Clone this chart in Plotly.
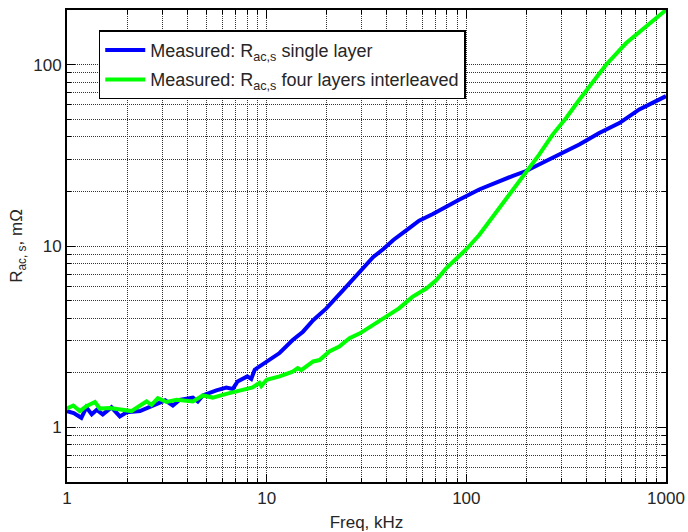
import plotly.graph_objects as go

# Single layer (blue)
freq_single = [1.0, 1.08, 1.18, 1.25, 1.33, 1.41, 1.51, 1.67, 1.84, 1.99, 2.32, 2.6, 2.92, 3.1,
               3.39, 3.67, 4.27, 4.52, 4.79, 5.6, 6.28, 6.77, 7.15, 8.0, 8.37, 8.71, 9.97, 11.6,
               13.5, 15.2, 17.1, 19.9, 24.1, 29.3, 34.2, 38.3, 43.1, 50, 58, 68, 79, 92, 116,
               140, 170, 199, 232, 292, 368, 463, 584, 735, 925, 1000]
rac_single = [1.23, 1.2, 1.13, 1.29, 1.18, 1.25, 1.18, 1.29, 1.15, 1.21, 1.23, 1.29, 1.37, 1.41,
              1.32, 1.42, 1.46, 1.39, 1.5, 1.6, 1.66, 1.63, 1.79, 1.91, 1.85, 2.08, 2.31, 2.57,
              3.03, 3.37, 3.9, 4.53, 5.7, 7.19, 8.7, 9.6, 10.8, 12.2, 13.8, 15.0, 16.5, 18.0, 20.5,
              22.4, 24.3, 25.9, 28.2, 32.0, 36.3, 42.0, 47.6, 56.6, 64.0, 67.0]

# Four layers interleaved (green)
freq_four = [1.0, 1.075, 1.16, 1.25, 1.38, 1.46, 1.64, 1.9, 2.1, 2.5, 2.65, 2.85, 3.15, 3.54,
             4.27, 4.79, 5.37, 6.28, 7.6, 8.5, 9.2, 9.4, 10, 11.6, 13.5, 14.3, 14.9, 17.1, 18.4,
             20.6, 23.1, 26, 29.3, 34.2, 39.5, 46, 53.7, 63, 70.6, 79, 89, 100, 116, 135, 158,
             184, 206, 232, 270, 316, 368, 430, 500, 630, 795, 950, 1000]
rac_four = [1.27, 1.32, 1.23, 1.31, 1.38, 1.27, 1.28, 1.25, 1.23, 1.39, 1.33, 1.45, 1.38, 1.42,
            1.39, 1.5, 1.46, 1.53, 1.61, 1.66, 1.76, 1.69, 1.83, 1.91, 2.03, 2.12, 2.07, 2.31, 2.35,
            2.62, 2.79, 3.1, 3.3, 3.66, 4.07, 4.53, 5.24, 5.83, 6.47, 7.5, 8.5, 9.6, 11.5, 14.4, 18.1,
            22.8, 27.0, 32.0, 41.0, 50.8, 64.0, 80.8, 99.6, 131, 161, 191, 200]

x_ticks = [1, 10, 100, 1000]
x_ticklabels = ["1", "10", "100", "1000"]
y_ticks = [1, 10, 100]
y_ticklabels = ["1", "10", "100"]

x_minor = [m * d for d in [1, 10, 100] for m in range(2, 10)]
y_minor = [0.6, 0.7, 0.8, 0.9] + [m * d for d in [1, 10] for m in range(2, 10)] + [200]

FONT = "Liberation Sans, Arial, Helvetica, sans-serif"
TXT = "#262626"

fig = go.Figure()
fig.add_trace(go.Scatter(x=freq_single, y=rac_single, mode="lines",
                         line=dict(color="#0000FF", width=4),
                         legendgroup="a",
                         name="Measured: R<sub>ac,s</sub> single layer"))
fig.add_trace(go.Scatter(x=freq_four, y=rac_four, mode="lines",
                         line=dict(color="#00FF00", width=4),
                         legendgroup="b",
                         name="Measured: R<sub>ac,s</sub> four layers interleaved"))

axis_common = dict(
    type="log", showline=True, linecolor="black", linewidth=2, mirror="allticks",
    ticks="inside", ticklen=8, tickcolor="black", tickwidth=1,
    tickfont=dict(family=FONT, size=17, color=TXT),
    zeroline=False, automargin=False,
    showgrid=True, gridcolor="#333333", griddash="1px,1px", gridwidth=1,
)
minor_common = dict(ticks="inside", ticklen=4, tickcolor="black",
                    showgrid=True, gridcolor="#333333", griddash="1px,1px", gridwidth=1)

fig.update_xaxes(
    range=[0, 3], tickvals=x_ticks, ticktext=x_ticklabels,
    minor=dict(tickvals=x_minor, **minor_common),
    title=dict(text="Freq, kHz", font=dict(family=FONT, size=17, color=TXT), standoff=9),
    **axis_common,
)
fig.update_yaxes(
    range=[-0.30103, 2.30103], tickvals=y_ticks, ticktext=y_ticklabels,
    minor=dict(tickvals=y_minor, **minor_common),
    title=dict(text="R<sub>ac, s</sub>, mΩ", font=dict(family=FONT, size=17, color=TXT), standoff=6),
    **axis_common,
)

fig.update_layout(
    width=688, height=532,
    margin=dict(l=67, r=22, t=10, b=50),
    paper_bgcolor="white", plot_bgcolor="white",
    font=dict(family=FONT, size=17, color=TXT),
    showlegend=True,
    legend=dict(x=0.053, y=0.957, xanchor="left", yanchor="top",
                bgcolor="white", bordercolor="black", borderwidth=1.5,
                font=dict(family=FONT, size=18, color=TXT),
                tracegroupgap=3, itemwidth=40),
)

fig.write_html("out.html", config={"displayModeBar": False},
               post_script="document.body.style.margin='0';document.body.style.overflow='hidden';")
